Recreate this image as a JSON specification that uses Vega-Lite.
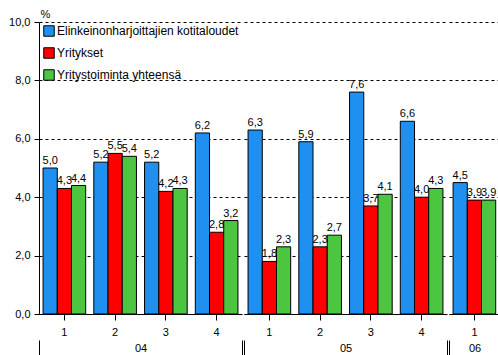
{
  "$schema": "https://vega.github.io/schema/vega-lite/v6.json",
  "padding": {"left": 8, "top": 8, "right": 2, "bottom": 0},
  "background": "white",
  "config": {
    "locale": {"number": {"decimal": ",", "thousands": " ", "grouping": [3], "currency": ["", " €"]}},
    "font": "Liberation Sans",
    "view": {"stroke": null},
    "concat": {"spacing": 0},
    "axis": {"labelFont": "Liberation Sans", "labelFontSize": 11, "labelColor": "black", "tickColor": "black", "domainColor": "black", "titleColor": "black"},
    "axisY": {"grid": true, "gridColor": "black", "gridDash": [3, 3], "gridOpacity": 1, "gridWidth": 1},
    "axisXBand": {"title": null, "labelAngle": 0, "grid": false}
  },
  "datasets": {"rates": [
    {"year": "04", "q": "1", "series": "Elinkeinonharjoittajien kotitaloudet", "value": 5.0},
    {"year": "04", "q": "1", "series": "Yritykset", "value": 4.3},
    {"year": "04", "q": "1", "series": "Yritystoiminta yhteensä", "value": 4.4},
    {"year": "04", "q": "2", "series": "Elinkeinonharjoittajien kotitaloudet", "value": 5.2},
    {"year": "04", "q": "2", "series": "Yritykset", "value": 5.5},
    {"year": "04", "q": "2", "series": "Yritystoiminta yhteensä", "value": 5.4},
    {"year": "04", "q": "3", "series": "Elinkeinonharjoittajien kotitaloudet", "value": 5.2},
    {"year": "04", "q": "3", "series": "Yritykset", "value": 4.2},
    {"year": "04", "q": "3", "series": "Yritystoiminta yhteensä", "value": 4.3},
    {"year": "04", "q": "4", "series": "Elinkeinonharjoittajien kotitaloudet", "value": 6.2},
    {"year": "04", "q": "4", "series": "Yritykset", "value": 2.8},
    {"year": "04", "q": "4", "series": "Yritystoiminta yhteensä", "value": 3.2},
    {"year": "05", "q": "1", "series": "Elinkeinonharjoittajien kotitaloudet", "value": 6.3},
    {"year": "05", "q": "1", "series": "Yritykset", "value": 1.8},
    {"year": "05", "q": "1", "series": "Yritystoiminta yhteensä", "value": 2.3},
    {"year": "05", "q": "2", "series": "Elinkeinonharjoittajien kotitaloudet", "value": 5.9},
    {"year": "05", "q": "2", "series": "Yritykset", "value": 2.3},
    {"year": "05", "q": "2", "series": "Yritystoiminta yhteensä", "value": 2.7},
    {"year": "05", "q": "3", "series": "Elinkeinonharjoittajien kotitaloudet", "value": 7.6},
    {"year": "05", "q": "3", "series": "Yritykset", "value": 3.7},
    {"year": "05", "q": "3", "series": "Yritystoiminta yhteensä", "value": 4.1},
    {"year": "05", "q": "4", "series": "Elinkeinonharjoittajien kotitaloudet", "value": 6.6},
    {"year": "05", "q": "4", "series": "Yritykset", "value": 4.0},
    {"year": "05", "q": "4", "series": "Yritystoiminta yhteensä", "value": 4.3},
    {"year": "06", "q": "1", "series": "Elinkeinonharjoittajien kotitaloudet", "value": 4.5},
    {"year": "06", "q": "1", "series": "Yritykset", "value": 3.9},
    {"year": "06", "q": "1", "series": "Yritystoiminta yhteensä", "value": 3.9}
  ]},
  "hconcat": [
    {
      "width": 203, "height": 292,
      "data": {"name": "rates"},
      "transform": [{"filter": "datum.year == '04'"}],
      "layer": [
        {
          "layer": [
            {
              "mark": {"type": "bar", "stroke": "black", "strokeWidth": 1},
              "encoding": {
                "x": {"field": "q", "type": "ordinal", "scale": {"paddingInner": 0.16, "paddingOuter": 0.08}, "axis": {"tickSize": 6, "labelPadding": 6}},
                "xOffset": {"field": "series", "type": "nominal", "sort": ["Elinkeinonharjoittajien kotitaloudet", "Yritykset", "Yritystoiminta yhteensä"], "scale": {"paddingInner": 0, "paddingOuter": 0}},
                "y": {"field": "value", "type": "quantitative", "scale": {"domain": [0, 10], "nice": false},
                      "axis": {"values": [0, 2, 4, 6, 8, 10], "title": "%", "titleAngle": 0, "titleAlign": "left", "titleBaseline": "bottom", "titleX": 1, "titleY": -3, "titleFontWeight": "normal", "titleFontSize": 11, "titleFont": "Liberation Sans", "format": ".1f", "tickSize": 5, "labelPadding": 4}},
                "color": {"field": "series", "type": "nominal",
                          "scale": {"domain": ["Elinkeinonharjoittajien kotitaloudet", "Yritykset", "Yritystoiminta yhteensä"], "range": ["#1f8ff0", "#ff0000", "#4cc540"]},
                          "legend": {"title": null, "orient": "none", "legendX": 4, "legendY": 3, "symbolType": "square", "symbolSize": 110, "symbolStrokeColor": "black", "symbolStrokeWidth": 1, "symbolOpacity": 1,
                                     "labelFont": "Liberation Sans", "labelFontSize": 12, "labelColor": "black", "labelLimit": 400, "rowPadding": 6, "labelOffset": 2, "padding": 0}}
              }
            },
            {
              "mark": {"type": "text", "baseline": "bottom", "dy": -2, "fontSize": 11, "font": "Liberation Sans", "color": "black"},
              "encoding": {
                "x": {"field": "q", "type": "ordinal"},
                "xOffset": {"field": "series", "type": "nominal", "sort": ["Elinkeinonharjoittajien kotitaloudet", "Yritykset", "Yritystoiminta yhteensä"]},
                "y": {"field": "value", "type": "quantitative"},
                "text": {"field": "value", "type": "quantitative", "format": ".1f"}
              }
            }
          ]
        },
        {
          "mark": {"type": "rule", "opacity": 0},
          "encoding": {
            "x": {"field": "year", "type": "nominal", "scale": {"paddingInner": 0, "paddingOuter": 0},
                  "axis": {"orient": "bottom", "offset": 26, "tickBand": "extent", "tickExtra": false, "tickSize": 15, "domain": false, "labelPadding": -13}}
          }
        }
      ],
      "resolve": {"scale": {"x": "independent"}}
    },
    {
      "width": 203, "height": 292,
      "data": {"name": "rates"},
      "transform": [{"filter": "datum.year == '05'"}],
      "layer": [
        {
          "layer": [
            {
              "mark": {"type": "bar", "stroke": "black", "strokeWidth": 1},
              "encoding": {
                "x": {"field": "q", "type": "ordinal", "scale": {"paddingInner": 0.16, "paddingOuter": 0.08}, "axis": {"tickSize": 6, "labelPadding": 6}},
                "xOffset": {"field": "series", "type": "nominal", "sort": ["Elinkeinonharjoittajien kotitaloudet", "Yritykset", "Yritystoiminta yhteensä"], "scale": {"paddingInner": 0, "paddingOuter": 0}},
                "y": {"field": "value", "type": "quantitative", "scale": {"domain": [0, 10], "nice": false},
                      "axis": {"values": [0, 2, 4, 6, 8, 10], "title": null, "labels": false, "ticks": false, "domain": false}},
                "color": {"field": "series", "type": "nominal"}
              }
            },
            {
              "mark": {"type": "text", "baseline": "bottom", "dy": -2, "fontSize": 11, "font": "Liberation Sans", "color": "black"},
              "encoding": {
                "x": {"field": "q", "type": "ordinal"},
                "xOffset": {"field": "series", "type": "nominal", "sort": ["Elinkeinonharjoittajien kotitaloudet", "Yritykset", "Yritystoiminta yhteensä"]},
                "y": {"field": "value", "type": "quantitative"},
                "text": {"field": "value", "type": "quantitative", "format": ".1f"}
              }
            }
          ]
        },
        {
          "mark": {"type": "rule", "opacity": 0},
          "encoding": {
            "x": {"field": "year", "type": "nominal", "scale": {"paddingInner": 0, "paddingOuter": 0},
                  "axis": {"orient": "bottom", "offset": 26, "tickBand": "extent", "tickExtra": false, "tickSize": 15, "domain": false, "labelPadding": -13}}
          }
        }
      ],
      "resolve": {"scale": {"x": "independent"}}
    },
    {
      "width": 51, "height": 292,
      "data": {"name": "rates"},
      "transform": [{"filter": "datum.year == '06'"}],
      "layer": [
        {
          "layer": [
            {
              "mark": {"type": "bar", "stroke": "black", "strokeWidth": 1},
              "encoding": {
                "x": {"field": "q", "type": "ordinal", "scale": {"paddingInner": 0.16, "paddingOuter": 0.08}, "axis": {"tickSize": 6, "labelPadding": 6}},
                "xOffset": {"field": "series", "type": "nominal", "sort": ["Elinkeinonharjoittajien kotitaloudet", "Yritykset", "Yritystoiminta yhteensä"], "scale": {"paddingInner": 0, "paddingOuter": 0}},
                "y": {"field": "value", "type": "quantitative", "scale": {"domain": [0, 10], "nice": false},
                      "axis": {"values": [0, 2, 4, 6, 8, 10], "title": null, "labels": false, "ticks": false, "domain": false}},
                "color": {"field": "series", "type": "nominal"}
              }
            },
            {
              "mark": {"type": "text", "baseline": "bottom", "dy": -2, "fontSize": 11, "font": "Liberation Sans", "color": "black"},
              "encoding": {
                "x": {"field": "q", "type": "ordinal"},
                "xOffset": {"field": "series", "type": "nominal", "sort": ["Elinkeinonharjoittajien kotitaloudet", "Yritykset", "Yritystoiminta yhteensä"]},
                "y": {"field": "value", "type": "quantitative"},
                "text": {"field": "value", "type": "quantitative", "format": ".1f"}
              }
            }
          ]
        },
        {
          "mark": {"type": "rule", "opacity": 0},
          "encoding": {
            "x": {"field": "year", "type": "nominal", "scale": {"paddingInner": 0, "paddingOuter": 0},
                  "axis": {"orient": "bottom", "offset": 26, "tickBand": "extent", "tickSize": 15, "domain": false, "labelPadding": -13}}
          }
        }
      ],
      "resolve": {"scale": {"x": "independent"}}
    }
  ],
  "resolve": {"scale": {"y": "shared", "color": "shared"}}
}
